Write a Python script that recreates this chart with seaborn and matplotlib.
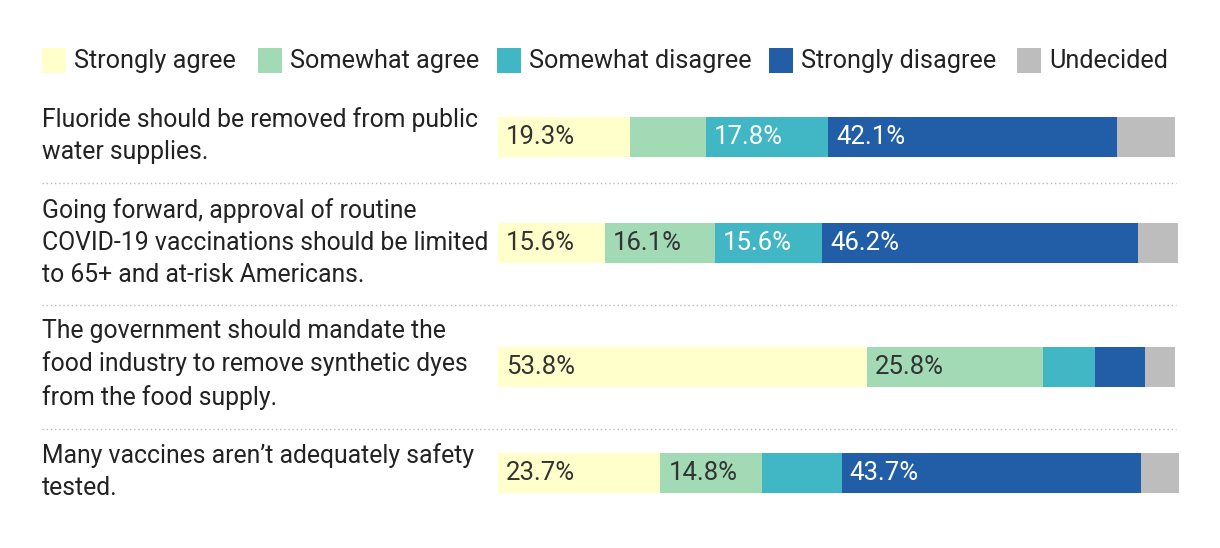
import matplotlib
matplotlib.use("Agg")
import matplotlib.pyplot as plt
import seaborn as sns
import numpy as np
import pandas as pd
from matplotlib.patches import Rectangle
from matplotlib.lines import Line2D

# ---------------- data ----------------
statements = [
    "Fluoride should be removed from public\nwater supplies.",
    "Going forward, approval of routine\nCOVID-19 vaccinations should be limited\nto 65+ and at-risk Americans.",
    "The government should mandate the\nfood industry to remove synthetic dyes\nfrom the food supply.",
    "Many vaccines aren\u2019t adequately safety\ntested.",
]
categories = ["Strongly agree", "Somewhat agree", "Somewhat disagree", "Strongly disagree", "Undecided"]
strongly_agree    = [19.3, 15.6, 53.8, 23.7]
somewhat_agree    = [11.1, 16.1, 25.8, 14.8]
somewhat_disagree = [17.8, 15.6, 7.6, 11.7]
strongly_disagree = [42.1, 46.2, 7.3, 43.7]
undecided         = [8.5, 5.8, 4.4, 5.5]
label_min = 14.0  # only segments this wide carry a value label

# ---------------- style ----------------
colors = ["#ffffcc", "#a1dab4", "#41b6c4", "#225ea8", "#bdbdbd"]
text_colors = ["#333333", "#333333", "white", "white", "#333333"]
sns.set_theme(style="white")
plt.rcParams["font.family"] = ["Roboto", "DejaVu Sans"]

W, H = 1220, 548
fig = plt.figure(figsize=(W / 100, H / 100), dpi=100)
row_y = [137, 243, 367, 473]          # layout: bar centres in pixels from top
bar_h = 40 / 106

ax = fig.add_axes([498 / W, 0, 685 / W, 1])

series = [strongly_agree, somewhat_agree, somewhat_disagree, strongly_disagree, undecided]
df = pd.DataFrame({c: v for c, v in zip(categories, series)})
cum = df.cumsum(axis=1)

# cumulative bars, drawn from the total down so each shorter one overlays
for i in range(len(categories) - 1, -1, -1):
    d = pd.DataFrame({"x": cum[categories[i]].values, "y": row_y})
    sns.barplot(data=d, x="x", y="y", orient="y", native_scale=True,
                width=bar_h, color=colors[i], saturation=1, linewidth=0,
                ax=ax, errorbar=None)

ax.set_xlim(0, 100)
ax.set_ylim(H, 0)
ax.axis("off")

# value labels
for r in range(len(statements)):
    left = 0.0
    for i, c in enumerate(categories):
        v = df[c].iloc[r]
        if v >= label_min:
            ax.annotate(f"{v:.1f}%", xy=(left, row_y[r]), xytext=(8, 0),
                        textcoords="offset pixels", va="center", ha="left",
                        fontsize=18.5, color=text_colors[i])
        left += v

# statement labels
label_y = [135.5, 243, 364.5, 472]
for s, yy in zip(statements, label_y):
    fig.text(42 / W, 1 - yy / H, s, ha="left", va="center", fontsize=17.8,
             color="#222222", linespacing=1.42)

# dotted separators
for yy in [183, 305, 429]:
    fig.add_artist(Line2D([42 / W, 1176 / W], [1 - yy / H, 1 - yy / H],
                          transform=fig.transFigure, color="#bbbbbb",
                          linestyle=(0, (1, 2)), linewidth=1))

# legend
leg_x = [42, 258, 497, 769, 1017]
for x0, c, col in zip(leg_x, categories, colors):
    fig.add_artist(Rectangle((x0 / W, 1 - 73 / H), 24 / W, 25 / H,
                             transform=fig.transFigure, facecolor=col,
                             edgecolor="none"))
    fig.text((x0 + 32) / W, 1 - 61 / H, c, ha="left", va="center",
             fontsize=18.2, color="#222222")

fig.savefig("out.png", dpi=100, facecolor="white")
